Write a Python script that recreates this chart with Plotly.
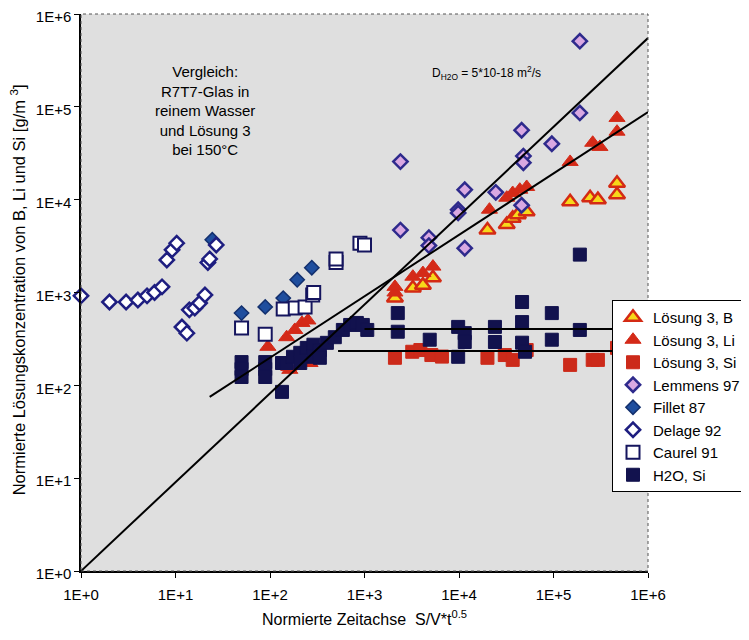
import plotly.graph_objects as go

# ---------------- data ----------------
tick_vals = [1, 10, 100, 1e3, 1e4, 1e5, 1e6]
tick_text = ["1E+0", "1E+1", "1E+2", "1E+3", "1E+4", "1E+5", "1E+6"]

b_x = [2100, 3250, 4150, 5300, 20000, 32000, 37000, 42000, 52000, 150000, 244000, 295000, 470000, 470000]
b_y = [870, 1120, 1200, 1440, 4700, 5400, 6300, 6900, 7400, 9500, 10500, 10000, 11300, 15000]

li_x = [95, 150, 162, 183, 218, 252, 265, 158, 2100, 2100, 3250, 4150, 5300, 21000, 32000, 37000, 44000, 52000,
        150000, 260000, 310000, 470000, 470000]
li_y = [260, 330, 147, 395, 470, 500, 174, 158, 1000, 1150, 1480, 1620, 1900, 7800, 10500, 11800, 12800, 13700,
        25500, 41000, 37000, 54000, 76000]

si3_x = [2100, 3200, 3900, 5100, 6600, 20000, 30500, 37000, 52000, 150000, 260000, 295000, 470000]
si3_y = [198, 230, 240, 212, 204, 198, 212, 188, 240, 166, 188, 188, 253]

lem_x = [2400, 2400, 4800, 4800, 9800, 9800, 11500, 11500, 24500, 46000, 46000, 48000, 48000, 96000, 190000, 190000]
lem_y = [25700, 4700, 3900, 3200, 7800, 7200, 12800, 3000, 12000, 56000, 8700, 29500, 25000, 40000, 86000, 510000]

fil_x = [24.5, 50, 89, 138, 194, 277]
fil_y = [3700, 600, 700, 870, 1370, 1850]

del_x = [1, 2, 3, 4, 5, 6, 7.2, 8.1, 9.2, 10.3, 11.7, 13.2, 14, 16, 18, 20.5, 22, 23, 27]
del_y = [920, 790, 790, 830, 920, 1000, 1150, 2240, 2880, 3400, 425, 365, 650, 680, 770, 940, 2100, 2300, 3250]

cau_x = [50, 89, 138, 185, 235, 283, 290, 500, 500, 895, 1000]
cau_y = [415, 355, 665, 680, 700, 940, 1000, 2100, 2300, 3400, 3250]

h2o_x = [50, 50, 50, 89, 89, 89, 134, 134, 150, 175, 209, 209, 245, 288, 288, 337, 337, 400, 485, 590, 705, 830,
         960, 1070, 2250, 2250, 4900, 9800, 9800, 11500, 11500, 24000, 24000, 46500, 46500, 46500, 50000,
         96000, 96000, 190000, 190000]
h2o_y = [178, 150, 123, 178, 150, 123, 85, 174, 174, 203, 224, 174, 253, 274, 203, 240, 198, 287, 330, 395, 447, 470,
         447, 395, 600, 378, 310, 426, 203, 365, 293, 426, 293, 790, 480, 288, 230,
         600, 310, 395, 2560]

# reference lines (end points)
diag_x = [1, 1e6]
diag_y = [1, 5.5e5]
fit_x = [23, 1e6]
fit_y = [75, 88000]
hup_x = [1000, 1e6]
hup_y = [405, 405]
hlo_x = [525, 4.2e5]
hlo_y = [234, 234]

# ---------------- figure ----------------
fig = go.Figure()

def add(name, x, y, symbol, size, fill, line_color, line_w):
    fig.add_trace(go.Scatter(
        x=x, y=y, mode="markers", name=name, cliponaxis=False,
        marker=dict(symbol=symbol, size=size, color=fill,
                    line=dict(color=line_color, width=line_w)),
    ))

add("Lösung 3, B", b_x, b_y, "triangle-up", 14, "#F7D81A", "#D42A14", 2.5)
add("Lösung 3, Li", li_x, li_y, "triangle-up", 14, "#D42A18", "#D42A18", 1)
add("Lösung 3, Si", si3_x, si3_y, "square", 13, "#CC2A1A", "#CC2A1A", 1)
add("Lemmens 97", lem_x, lem_y, "diamond", 11, "#D9A8E2", "#2E2A8C", 2.5)
add("Fillet 87", fil_x, fil_y, "diamond", 11, "#1F4E9E", "#13306E", 1.5)
add("Delage 92", del_x, del_y, "diamond", 11, "white", "#1E1E80", 2.5)
add("Caurel 91", cau_x, cau_y, "square", 13, "white", "#15155E", 2)
add("H2O, Si", h2o_x, h2o_y, "square", 13, "#12124E", "#12124E", 1)

for lx, ly in [(diag_x, diag_y), (fit_x, fit_y), (hup_x, hup_y), (hlo_x, hlo_y)]:
    fig.add_trace(go.Scatter(x=lx, y=ly, mode="lines", showlegend=False,
                             line=dict(color="black", width=2), hoverinfo="skip"))

font_family = "Liberation Sans, Arial, sans-serif"

# page has an 8px body margin: figure is 741x632 placed at (8, 8)
W, H = 741, 632
fig.update_layout(
    width=W, height=H,
    margin=dict(l=73, r=101, t=6, b=69, autoexpand=False),
    paper_bgcolor="white",
    plot_bgcolor="#dfdfdf",
    font=dict(family=font_family, size=15, color="black"),
    showlegend=True,
    legend=dict(
        xref="container", yref="container",
        x=604 / W, y=1 - 292 / H, xanchor="left", yanchor="top",
        bgcolor="white", bordercolor="black", borderwidth=1,
        font=dict(size=15, family=font_family),
        tracegroupgap=0, itemwidth=30,
    ),
    xaxis=dict(
        type="log", range=[0, 6], automargin=False,
        tickvals=tick_vals, ticktext=tick_text,
        showgrid=False, zeroline=False,
        showline=True, linecolor="black", linewidth=1.5,
        ticks="outside", ticklen=5, tickcolor="black",
        tickfont=dict(size=15), ticklabeloverflow="allow", ticklabelstandoff=4,
        title=dict(text="Normierte Zeitachse  S/V*t<sup>0.5</sup>", font=dict(size=16), standoff=12),
    ),
    yaxis=dict(
        type="log", range=[0, 6], automargin=False,
        tickvals=tick_vals, ticktext=tick_text,
        showgrid=False, zeroline=False,
        showline=True, linecolor="black", linewidth=1.5,
        ticks="outside", ticklen=5, tickcolor="black",
        tickfont=dict(size=15), ticklabeloverflow="allow", ticklabelshift=3,
    ),
    shapes=[dict(type="rect", xref="paper", yref="paper", x0=0, y0=0, x1=1, y1=1,
                 line=dict(color="#555555", width=1, dash="dot"), layer="above")],
    annotations=[
        dict(xref="paper", yref="paper", x=-0.111, y=0.504, xanchor="center", yanchor="middle",
             textangle=-90, showarrow=False, font=dict(size=16.5),
             text="Normierte Lösungskonzentration von B, Li und Si [g/m <sup>3</sup>]"),
        dict(xref="paper", yref="paper", x=0.218, y=0.915, xanchor="center", yanchor="top",
             text="Vergleich:<br>R7T7-Glas in<br>reinem Wasser<br>und Lösung 3<br>bei 150°C",
             showarrow=False, font=dict(size=15), align="center"),
        dict(xref="paper", yref="paper", x=0.615, y=0.894, xanchor="left", yanchor="middle",
             text="D<sub>H2O</sub> = 5*10-18 m<sup>2</sup>/s",
             showarrow=False, font=dict(size=12)),
    ],
)

fig.write_html("out.html")
